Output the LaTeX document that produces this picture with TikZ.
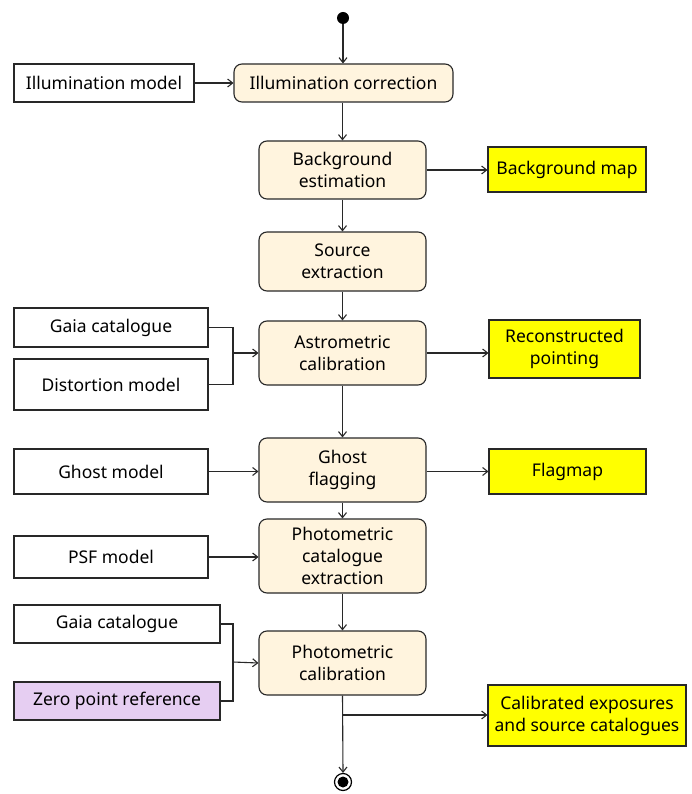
\documentclass[tikz,border=0pt]{standalone}
\usepackage{fontspec}
\setmainfont{Noto Sans}
\usetikzlibrary{arrows.meta,calc}
\definecolor{cream}{RGB}{255,244,222}
\definecolor{hiyel}{RGB}{255,255,0}
\definecolor{lilac}{RGB}{230,206,242}
\definecolor{ln}{RGB}{40,40,40}
\tikzset{
  proc/.style={draw=ln,line width=1.1pt,fill=cream,rounded corners=8pt,align=center,font=\fontsize{17.5}{22}\selectfont,inner sep=0pt},
  inbox/.style={draw=ln,line width=1.1pt,fill=white,align=center,font=\fontsize{17.5}{22}\selectfont,inner sep=0pt},
  outbox/.style={draw=ln,line width=1.1pt,fill=hiyel,align=center,font=\fontsize{17.5}{22}\selectfont,inner sep=0pt},
  conn/.style={draw=ln,line width=1.1pt,-{Straight Barb[length=5pt,width=8pt]}},
  plain/.style={draw=ln,line width=1.1pt},
}
\begin{document}
\begin{tikzpicture}[x=1pt,y=-1pt]
\useasboundingbox (0,0) rectangle (692,794);
\node[circle,fill=black,minimum size=12pt,inner sep=0pt] (start) at (343,18) {};
\node[proc,minimum width=219pt,minimum height=38pt] (illc) at (343.5,83) {Illumination correction};
\node[inbox,minimum width=180pt,minimum height=38pt] (illm) at (104,83) {Illumination model};
\node[proc,minimum width=167pt,minimum height=58pt] (bge) at (342.5,170) {Background\\estimation};
\node[outbox,minimum width=158pt,minimum height=45pt] (bgm) at (567,169.5) {Background map};
\node[proc,minimum width=167pt,minimum height=59pt] (src) at (342.5,261.5) {Source\\extraction};
\node[proc,minimum width=167pt,minimum height=64pt] (ast) at (342.5,353) {Astrometric\\calibration};
\node[inbox,minimum width=194pt,minimum height=39pt] (gaiaa) at (111,327.5) {Gaia catalogue};
\node[inbox,minimum width=194pt,minimum height=51pt] (dist) at (111,384.5) {Distortion model};
\node[outbox,minimum width=151pt,minimum height=58pt] (recp) at (564.5,349) {Reconstructed\\pointing};
\node[proc,minimum width=167pt,minimum height=64pt] (ghost) at (342.5,470) {Ghost\\flagging};
\node[inbox,minimum width=194pt,minimum height=45pt] (ghm) at (111,471.5) {Ghost model};
\node[outbox,minimum width=157pt,minimum height=45pt] (flag) at (567.5,471.5) {Flagmap};
\node[proc,minimum width=167pt,minimum height=74pt] (pce) at (342.5,556) {Photometric\\catalogue\\extraction};
\node[inbox,minimum width=194pt,minimum height=42pt] (psf) at (111,557) {PSF model};
\node[proc,minimum width=167pt,minimum height=64pt] (phc) at (342.5,663) {Photometric\\calibration};
\node[inbox,minimum width=206pt,minimum height=38pt] (gaiab) at (117,624) {Gaia catalogue};
\node[inbox,fill=lilac,minimum width=206pt,minimum height=38pt] (zp) at (117,701) {Zero point reference};
\node[outbox,minimum width=198pt,minimum height=61pt] (cal) at (587,715.5) {Calibrated exposures\\and source catalogues};
\node[circle,draw=black,line width=1.2pt,minimum size=17pt,inner sep=0pt] (endo) at (343,782) {};
\node[circle,fill=black,minimum size=11pt,inner sep=0pt] (endi) at (343,782) {};
\coordinate (ma) at (233,353);
\coordinate (mb) at (233,662);
\coordinate (br) at (343,715);
% connectors
\draw[conn] (start) -- (start |- illc.north);
\draw[conn] (illm) -- (illc);
\draw[conn] (illc.south -| bge.north) -- (bge.north);
\draw[conn] (bge.east) -- (bge.east -| bgm.west);
\draw[conn] (bge) -- (src);
\draw[conn] (src) -- (ast);
\draw[plain] (gaiaa.east) -| (ma) |- (dist.east);
\draw[conn] (ma) -- (ast.west);
\draw[conn] (ast.east) -- (ast.east -| recp.west);
\draw[conn] (ast) -- (ghost);
\draw[conn] (ghm.east) -- (ghm.east -| ghost.west);
\draw[conn] (ghost.east |- flag.west) -- (flag.west);
\draw[conn] (ghost) -- (pce);
\draw[conn] (psf.east) -- (psf.east -| pce.west);
\draw[conn] (pce) -- (phc);
\draw[plain] (gaiab.east) -| (mb) |- (zp.east);
\draw[conn] (mb) -- (phc.west);
\draw[conn] (phc.south) -- (endo.north);
\draw[conn] (br) -- (br -| cal.west);
\end{tikzpicture}
\end{document}
